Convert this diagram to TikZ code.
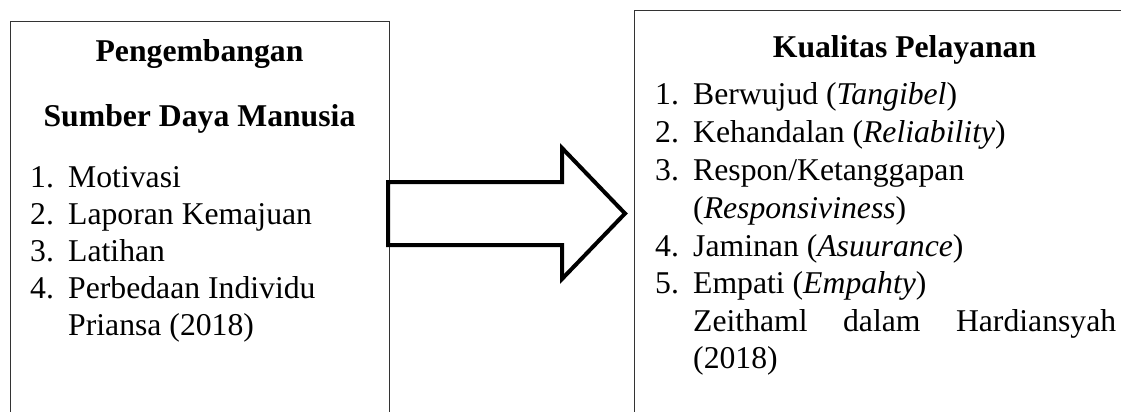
\documentclass[tikz,border=0pt]{standalone}
\usepackage{fontspec}
\setmainfont{Liberation Serif}
\begin{document}
\begin{tikzpicture}[x=1pt,y=-1pt,
  frame/.style={draw=black!80,line width=1pt,rectangle,inner sep=0pt},
  txt/.style={inner sep=0pt,font=\fontsize{31.7}{38}\selectfont},
  item/.style={txt,anchor=base west},
  ttl/.style={txt,anchor=base,font=\fontsize{31.7}{38}\selectfont\bfseries},
  blockarrow/.style={draw=black,line width=4pt,line join=miter,fill=white}]
\useasboundingbox (0,0) rectangle (1121,412);
\clip (0,0) rectangle (1121,412);
% boxes
\node[frame,minimum width=379pt,minimum height=420pt,anchor=north west] (left) at (10,21) {};
\node[frame,minimum width=541pt,minimum height=430pt,anchor=north west] (right) at (634,10) {};
% arrow
\coordinate (a1) at (388,182);
\coordinate (a2) at (562,182);
\coordinate (a3) at (562,148);
\coordinate (tip) at (625,213.5);
\coordinate (a5) at (562,279);
\coordinate (a6) at (562,245);
\coordinate (a7) at (388,245);
\draw[blockarrow] (a1) -- (a2) -- (a3) -- (tip) -- (a5) -- (a6) -- (a7) -- cycle;
% left texts
\node[ttl] (lt1) at (199.5,61.7) {Pengembangan};
\node[ttl] (lt2) at (199.5,126.7) {Sumber Daya Manusia};
\node[item] (ln1) at (30,187.5) {1.};
\node[item] (li1) at (68,187.5) {Motivasi};
\node[item] (ln2) at (30,224.5) {2.};
\node[item] (li2) at (68,224.5) {Laporan Kemajuan};
\node[item] (ln3) at (30,261.5) {3.};
\node[item] (li3) at (68,261.5) {Latihan};
\node[item] (ln4) at (30,298.5) {4.};
\node[item] (li4) at (68,298.5) {Perbedaan Individu};
\node[item] (lsrc) at (68,335.5) {Priansa (2018)};
% right texts
\node[ttl] (rt) at (904.5,57) {Kualitas Pelayanan};
\node[item] (rn1) at (655,104) {1.};
\node[item] (ri1) at (693,104) {Berwujud (\textit{Tangibel})};
\node[item] (rn2) at (655,142) {2.};
\node[item] (ri2) at (693,142) {Kehandalan (\textit{Reliability})};
\node[item] (rn3) at (655,180) {3.};
\node[item] (ri3) at (693,180) {Respon/Ketanggapan};
\node[item] (ri3b) at (693,218) {(\textit{Responsiviness})};
\node[item] (rn4) at (655,256) {4.};
\node[item] (ri4) at (693,256) {Jaminan (\textit{Asuurance})};
\node[item] (rn5) at (655,293.5) {5.};
\node[item] (ri5) at (693,293.5) {Empati (\textit{Empahty})};
\node[item] (rsrc) at (693,331) {\makebox[423pt][s]{Zeithaml\hfill dalam\hfill Hardiansyah}};
\node[item] (rsrc2) at (693,368) {(2018)};
\end{tikzpicture}
\end{document}
